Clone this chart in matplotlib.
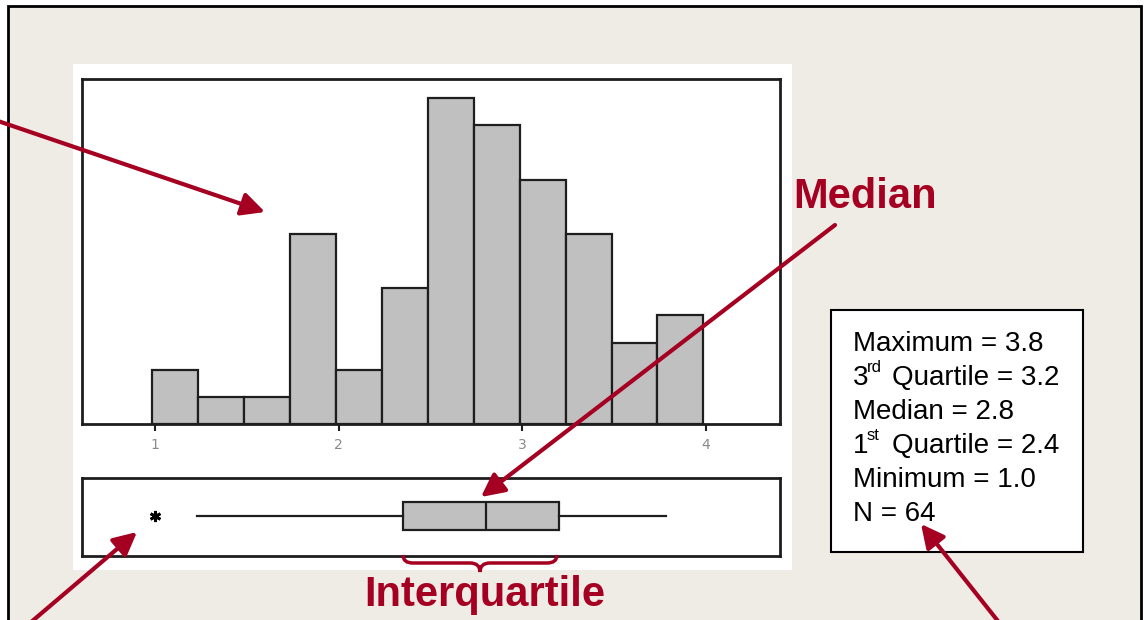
import matplotlib
matplotlib.use("Agg")
import matplotlib.pyplot as plt
from matplotlib.patches import Rectangle, PathPatch
from matplotlib.path import Path

# === DATA ===
bin_edges = [0.985, 1.235, 1.485, 1.735, 1.985, 2.235, 2.485,
             2.735, 2.985, 3.235, 3.485, 3.735, 3.985]
bin_counts = [2, 1, 1, 7, 2, 5, 12, 11, 9, 7, 3, 4]
x_ticks = [1, 2, 3, 4]

box_min_whisker = 1.23
box_q1 = 2.35
box_median = 2.80
box_q3 = 3.20
box_max_whisker = 3.78
box_outliers = [1.0]

stat_names = ["Maximum", "3", "Median", "1", "Minimum", "N"]
stat_sups = ["", "rd", "", "st", "", ""]
stat_rest = ["", "Quartile", "", "Quartile", "", ""]
stat_values = ["3.8", "3.2", "2.8", "2.4", "1.0", "64"]

# === STYLE ===
W, H = 1144, 620
RED = "#A50021"
BEIGE = "#EFECE5"
BAR_GRAY = "#C0C0C0"
EDGE = "#1E1E1E"
FONT = "Liberation Sans"


def px_rect(left, top, right, bottom):
    return [left / W, 1 - bottom / H, (right - left) / W, (bottom - top) / H]


fig = plt.figure(figsize=(W / 100, H / 100), dpi=100)
fig.patch.set_facecolor("white")

# background layer in pixel coords
bg = fig.add_axes([0, 0, 1, 1], zorder=0)
bg.set_xlim(0, W)
bg.set_ylim(H, 0)
bg.axis("off")
bg.add_patch(Rectangle((8, 6), 1133, 700, facecolor=BEIGE, edgecolor="black", lw=2))
bg.add_patch(Rectangle((73, 64), 719, 506, facecolor="white", edgecolor="none"))
bg.add_patch(Rectangle((831, 310), 252, 242, facecolor="white", edgecolor="black", lw=1.5))

# === HISTOGRAM ===
ax_hist = fig.add_axes(px_rect(82, 79, 780, 424), zorder=2)
widths = [b - a for a, b in zip(bin_edges[:-1], bin_edges[1:])]
ax_hist.bar(bin_edges[:-1], bin_counts, width=widths, align="edge",
            color=BAR_GRAY, edgecolor=EDGE, linewidth=1.6)
ax_hist.set_xlim(0.603, 4.402)
ax_hist.set_ylim(0, 12.7)
ax_hist.set_yticks([])
ax_hist.set_xticks(x_ticks)
ax_hist.tick_params(axis="x", direction="out", length=5, width=1.5, color=EDGE,
                    labelsize=10, labelcolor="#8A8A8A", pad=5)
for sp in ax_hist.spines.values():
    sp.set_linewidth(2)
    sp.set_color(EDGE)

# === BOXPLOT ===
ax_box = fig.add_axes(px_rect(82, 478, 780, 556), zorder=2)
stats = [{
    "whislo": box_min_whisker, "q1": box_q1, "med": box_median,
    "q3": box_q3, "whishi": box_max_whisker, "fliers": box_outliers,
}]
ax_box.bxp(stats, positions=[0.51], widths=0.36, vert=False, patch_artist=True,
           showcaps=False,
           boxprops=dict(facecolor=BAR_GRAY, edgecolor=EDGE, linewidth=1.6),
           medianprops=dict(color=EDGE, linewidth=1.6),
           whiskerprops=dict(color=EDGE, linewidth=1.6),
           flierprops=dict(marker=(6, 2, 0), markersize=8, markeredgewidth=2,
                           markeredgecolor="black"))
ax_box.set_xlim(0.603, 4.402)
ax_box.set_ylim(0, 1)
ax_box.set_xticks([])
ax_box.set_yticks([])
for sp in ax_box.spines.values():
    sp.set_linewidth(2)
    sp.set_color(EDGE)

# === OVERLAY: labels, arrows, brace ===
ov = fig.add_axes([0, 0, 1, 1], zorder=5)
ov.set_xlim(0, W)
ov.set_ylim(H, 0)
ov.patch.set_alpha(0)
ov.axis("off")

ov.text(793, 208, "Median", fontsize=30, fontweight="bold", color=RED,
        family=FONT, va="baseline", ha="left")
ov.text(485, 606, "Interquartile", fontsize=30, fontweight="bold", color=RED,
        family=FONT, va="baseline", ha="center")

arrow_kw = dict(arrowstyle="-|>,head_length=0.7,head_width=0.35", color=RED,
                lw=3, shrinkA=0, shrinkB=0, mutation_scale=20)
arrows = [((-5, 120), (265, 212)),
          ((835, 225), (481, 497)),
          ((10, 640), (137, 532)),
          ((1005, 630), (921, 524))]
for start, tip in arrows:
    ov.annotate("", xy=tip, xytext=start, arrowprops=arrow_kw,
                annotation_clip=False)

# curly brace under the box
brace = Path(
    [(403, 555), (403, 563), (413, 563), (470, 563), (480, 563), (480, 572),
     (480, 563), (490, 563), (547, 563), (557, 563), (557, 555)],
    [Path.MOVETO, Path.CURVE3, Path.CURVE3, Path.LINETO, Path.CURVE3, Path.CURVE3,
     Path.CURVE3, Path.CURVE3, Path.LINETO, Path.CURVE3, Path.CURVE3])
ov.add_patch(PathPatch(brace, facecolor="none", edgecolor=RED, lw=2.5))

# === STATS BOX TEXT ===
y0, dy = 351, 34
for i, (name, sup, rest, val) in enumerate(zip(stat_names, stat_sups, stat_rest, stat_values)):
    y = y0 + i * dy
    if sup:
        ov.text(853, y, name, fontsize=20, family=FONT, va="baseline")
        ov.text(867, y - 13, sup, fontsize=12, family=FONT, va="baseline")
        ov.text(892, y, rest + " = " + val, fontsize=20, family=FONT, va="baseline")
    else:
        ov.text(853, y, name + " = " + val, fontsize=20, family=FONT, va="baseline")

fig.savefig("out.png", dpi=100)
